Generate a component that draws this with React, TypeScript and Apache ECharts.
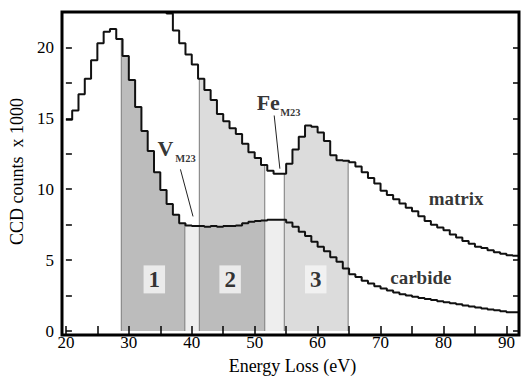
import React, { useEffect, useRef } from "react";
import * as echarts from "echarts";

// ---- data (1 eV bins, value holds from E to E+1) ----
const carbideStart = 20;
const carbide = [
  14.9, 15.55, 16.7, 17.8, 19.1, 20.3, 21.1, 21.3, 20.6, 19.4,
  17.7, 15.8, 14.1, 12.7, 11.2, 9.95, 8.95, 8.2, 7.6, 7.45,
  7.4, 7.4, 7.35, 7.4, 7.35, 7.4, 7.4, 7.45, 7.6, 7.7,
  7.75, 7.8, 7.85, 7.85, 7.85, 7.65, 7.35, 7.0, 6.7, 6.3,
  5.95, 5.62, 5.2, 4.88, 4.4, 4.0, 3.8, 3.55, 3.35, 3.15,
  3.0, 2.85, 2.72, 2.6, 2.5, 2.42, 2.33, 2.25, 2.18, 2.1,
  2.03, 1.96, 1.88, 1.8, 1.72, 1.65, 1.58, 1.52, 1.46, 1.4,
  1.33, 1.33,
];
const matrixStart = 35;
const matrix = [
  24.0, 22.4, 21.2, 20.3, 19.5,
  18.8, 17.8, 17.0, 16.3, 15.3, 14.8, 14.3, 13.9, 13.2, 12.6,
  12.2, 11.7, 11.3, 11.1, 11.1, 11.8, 12.8, 13.7, 14.5, 14.4,
  14.0, 13.4, 12.4, 12.05, 12.0, 11.9, 11.6, 11.2, 10.8, 10.4,
  9.9, 9.6, 9.3, 9.0, 8.7, 8.45, 8.1, 7.75, 7.5, 7.3,
  7.1, 6.8, 6.6, 6.35, 6.15, 5.95, 5.85, 5.7, 5.55, 5.45,
  5.35, 5.3,
];
const binEnd = 92;

// integration windows (eV)
const regionNames = ["1", "2", "3"];
const regionStart = [28.8, 41.2, 54.7];
const regionEnd = [38.9, 51.6, 64.85];

const xTicks = [20, 30, 40, 50, 60, 70, 80, 90];
const yTicks = [0, 5, 10, 15, 20];

// ---- styling ----
const FONT = '"Liberation Serif", "Times New Roman", serif';
const FILL: Record<string, string> = {
  dark: "#bcbcbc",
  light: "#dcdcdc",
  pale: "#eeeeee",
};

const stepData = (vals: number[], start: number) => {
  const d = vals.map((v, i) => [start + i, v]);
  d.push([binEnd, vals[vals.length - 1]]);
  return d;
};
const cAt = (x: number) => carbide[Math.floor(x) - carbideStart];
const mAt = (x: number) => matrix[Math.floor(x) - matrixStart];

// each band becomes one polygon (lower: 0..carbide, upper: carbide..matrix)
function buildShading() {
  const bands: [number, number, string | null, string | null][] = [
    [regionStart[0], regionEnd[0], "dark", null],
    [regionEnd[0], regionStart[1], "pale", null],
    [regionStart[1], regionEnd[1], "dark", "light"],
    [regionEnd[1], regionStart[2], "pale", null],
    [regionStart[2], regionEnd[2], "light", "light"],
  ];
  const items: any[] = [];
  bands.forEach(([a, b, lo, up]) => {
    const top: number[][] = []; // carbide steps
    const topM: number[][] = []; // matrix steps
    for (let n = Math.floor(a); n < Math.ceil(b); n++) {
      const x0 = Math.max(a, n);
      const x1 = Math.min(b, n + 1);
      const c = cAt(n + 0.5);
      const m = mAt(n + 0.5);
      top.push([x0, c], [x1, c]);
      topM.push([x0, m], [x1, m]);
    }
    if (lo) {
      items.push({ pts: [[a, 0], ...top, [b, 0]], fill: FILL[lo], x: a, y: 0 });
    }
    if (up) {
      items.push({ pts: [...top, ...topM.slice().reverse()], fill: FILL[up], x: a, y: 0 });
    }
  });
  const edges: [number, number][] = [
    [regionStart[0], cAt(regionStart[0])],
    [regionEnd[0], cAt(regionEnd[0])],
    [regionStart[1], mAt(regionStart[1])],
    [regionEnd[1], mAt(regionEnd[1])],
    [regionStart[2], mAt(regionStart[2])],
    [regionEnd[2], mAt(regionEnd[2])],
  ];
  edges.forEach(([x, t]) => {
    items.push({ pts: [[x, 0], [x, t]], line: true, x, y: 0 });
  });
  return items;
}

const annotations = [
  { text: "V", x: 35.8, y: 12.87, size: 22 },
  { text: "M23", x: 39.0, y: 12.17, size: 10.5 },
  { text: "Fe", x: 52.15, y: 16.13, size: 22 },
  { text: "M23", x: 55.67, y: 15.38, size: 10.5 },
  { text: "matrix", x: 82.0, y: 9.35, size: 19 },
  { text: "carbide", x: 76.4, y: 3.75, size: 19 },
];
const regionLabelX = [34.05, 46.1, 59.7];
const regionLabelY = 3.64;
const leaders = [
  [[38.2, 11.4], [40.2, 8.08]],
  [[53.1, 15.2], [54.0, 11.45]],
];

export default function App() {
  const ref = useRef<HTMLDivElement>(null);
  useEffect(() => {
    if (!ref.current) return;
    const chart = echarts.init(ref.current, null, { renderer: "svg" });
    const shading = buildShading();
    const fs = 17;
    const xBase = {
      type: "value",
      min: 20,
      max: 92,
      interval: 5,
      axisLine: { show: false },
      splitLine: { show: false },
      axisTick: { inside: true, length: 5, lineStyle: { color: "#000", width: 1.5 } },
      z: 10,
    };
    const yBase = {
      type: "value",
      min: 0,
      max: 22.5,
      interval: 2.5,
      axisLine: { show: false },
      splitLine: { show: false },
      axisTick: { inside: true, length: 6, lineStyle: { color: "#000", width: 1.5 } },
      z: 10,
    };
    const option: any = {
      animation: false,
      backgroundColor: "#fff",
      grid: { left: 62, right: 4, top: 12, bottom: 45 },
      xAxis: [
        {
          ...xBase,
          position: "bottom",
          axisLabel: {
            formatter: (v: number) => (xTicks.includes(v) ? String(v) : ""),
            showMaxLabel: false,
            color: "#000",
            fontSize: fs,
            fontFamily: FONT,
            margin: 3,
          },
          name: "Energy Loss (eV)",
          nameLocation: "middle",
          nameGap: 26,
          nameTextStyle: { color: "#000", fontSize: 18, fontFamily: FONT },
        },
        { ...xBase, position: "top", axisLabel: { show: false } },
      ],
      yAxis: [
        {
          ...yBase,
          position: "left",
          axisLabel: {
            formatter: (v: number) => (yTicks.includes(v) ? String(v) : ""),
            showMaxLabel: false,
            color: "#000",
            fontSize: fs,
            fontFamily: FONT,
            margin: 12,
          },
          name: "CCD counts  x 1000",
          nameLocation: "middle",
          nameGap: 31,
          nameTextStyle: { color: "#000", fontSize: 18, fontFamily: FONT },
        },
        { ...yBase, position: "right", axisLabel: { show: false } },
      ],
      graphic: [
        {
          type: "rect",
          z: 100,
          silent: true,
          shape: { x: 62, y: 12, width: 457, height: 323 },
          style: { fill: "none", stroke: "#000", lineWidth: 3 },
        },
      ],
      series: [
        {
          type: "custom",
          silent: true,
          z: 1,
          encode: { x: 0, y: 1 },
          data: shading.map((s) => [s.x, s.y]),
          renderItem: (params: any, api: any) => {
            const it = shading[params.dataIndex];
            const pts = it.pts.map((p: number[]) => api.coord(p));
            if (it.line) {
              return {
                type: "line",
                shape: { x1: pts[0][0], y1: pts[0][1], x2: pts[1][0], y2: pts[1][1] },
                style: { stroke: "#7a7a7a", lineWidth: 1 },
              };
            }
            return {
              type: "polygon",
              shape: { points: pts },
              style: { fill: it.fill },
            };
          },
        },
        {
          type: "line",
          name: "carbide",
          data: stepData(carbide, carbideStart),
          step: "end",
          symbol: "none",
          silent: true,
          z: 5,
          lineStyle: { color: "#111", width: 2 },
        },
        {
          type: "line",
          name: "matrix",
          data: stepData(matrix, matrixStart),
          step: "end",
          symbol: "none",
          silent: true,
          z: 5,
          lineStyle: { color: "#111", width: 2 },
        },
        ...leaders.map((d) => ({
          type: "line",
          data: d,
          symbol: "none",
          silent: true,
          z: 6,
          lineStyle: { color: "#222", width: 1 },
        })),
        {
          type: "scatter",
          silent: true,
          z: 8,
          symbolSize: 0,
          data: regionNames.map((n, i) => ({
            value: [regionLabelX[i], regionLabelY],
            label: { formatter: n },
          })),
          label: {
            show: true,
            position: "inside",
            color: "#000",
            fontSize: 23,
            fontWeight: "bold",
            fontFamily: FONT,
            backgroundColor: "#f6f6f6",
            padding: [3, 5, 2, 5],
          },
        },
        {
          type: "scatter",
          silent: true,
          z: 8,
          symbolSize: 0,
          data: annotations.map((a) => ({
            value: [a.x, a.y],
            label: { formatter: a.text, fontSize: a.size },
          })),
          label: {
            show: true,
            position: "inside",
            color: "#000",
            fontWeight: "bold",
            fontFamily: FONT,
          },
        },
      ],
    };
    chart.setOption(option);
    return () => chart.dispose();
  }, []);
  return (
    <div
      ref={ref}
      style={{ position: "fixed", left: 0, top: 0, width: 523, height: 380 }}
    />
  );
}
